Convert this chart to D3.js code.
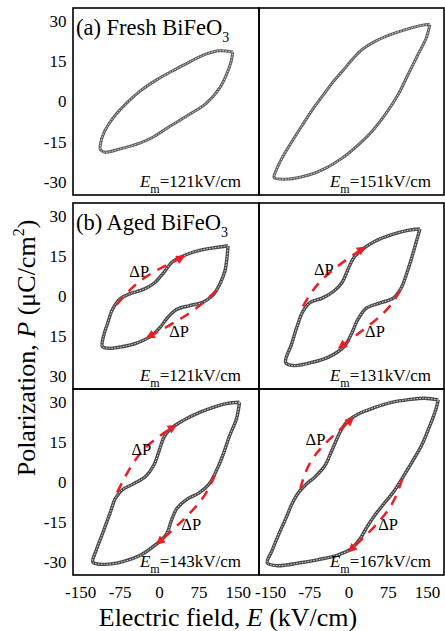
<!DOCTYPE html>
<html>
<head>
<meta charset="utf-8">
<script src="https://cdn.jsdelivr.net/npm/d3@7"></script>
<style>
  body { margin: 0; background: #fff; }
</style>
</head>
<body>
<div id="plot"></div>
<script>
// P-E loops: [E (kV/cm), P (uC/cm2)], upper branch then lower branch
const fresh121 = [[127,18.5],[102,19],[77,17.8],[32,13.5],[13,11.5],[-18,8.1],[-50,3.8],[-75,-0.6],
  [-101,-6.2],[-117,-11.2],[-125,-16.2],[-125,-18],[-117,-19],[-88,-17.8],[-50,-15.6],[-25,-13.4],
  [-6,-11],[13,-8.6],[45,-4.8],[77,-0.6],[102,5],[115,10],[124,15],[127,18.5]];
const fresh151 = [[150,28.8],[134,28.5],[108,27.2],[77,25.2],[45,22.5],[20,19.4],[1,15.6],[-18,11.2],
  [-37,6.9],[-56,1.9],[-75,-3.1],[-94,-8.8],[-114,-15],[-133,-21.2],[-145,-26.2],[-148,-28.5],
  [-120,-29],[-82,-27.5],[-50,-25],[-18,-21.2],[13,-16.2],[39,-11.2],[64,-5],[89,2.5],[108,10],
  [127,17.5],[143,23.8],[150,28.8]];
const aged121 = [[118,18.9],[90,18.1],[64,17.2],[39,15.6],[13,13],[-6,8.4],[-22,4.9],[-44,2.4],
  [-69,0.8],[-88,-1.1],[-102,-5.1],[-112,-10.8],[-119,-15.2],[-121,-19],[-107,-19.7],[-82,-19],
  [-56,-17.7],[-31,-15.4],[-12,-12],[4,-7.9],[20,-5.1],[45,-3.6],[70,-2.4],[90,0.5],[102,4.3],
  [112,9.3],[116,14.3],[118,18.9]];
const aged131 = [[131,25.2],[108,24.7],[77,23.1],[45,20.6],[20,17.4],[4,14.3],[-7,9.9],[-18,5.1],
  [-34,1.8],[-56,-0.8],[-79,-2.4],[-93,-5.8],[-104,-11.4],[-115,-18.3],[-126,-25],[-110,-26.2],
  [-76,-25],[-44,-23],[-15,-19.2],[-1,-14.6],[12,-8.9],[29,-4.5],[55,-2.6],[80,-0.8],[95,3],
  [107,9.3],[117,15.6],[126,21.8],[131,25.2]];
const aged143 = [[140,30],[115,29.5],[90,28.1],[64,26.2],[32,23.1],[10,20.2],[-4,16.8],[-13,11.8],
  [-23,6.4],[-39,2.1],[-63,-0.8],[-83,-2.9],[-96,-6.1],[-107,-12],[-120,-19],[-133,-25.8],
  [-139,-30.2],[-117,-31],[-82,-30],[-50,-27.7],[-18,-23.3],[1,-19.6],[10,-14.6],[21,-9.9],
  [39,-6.6],[63,-4.1],[82,-0.8],[96,4.3],[109,10.5],[121,17.4],[134,23.7],[140,30]];
const aged167 = [[166,30.9],[140,31.5],[109,31],[77,30],[45,28.1],[13,25.6],[-6,23.1],[-18,20.2],
  [-28,16.2],[-39,11.2],[-51,6.1],[-69,2.1],[-88,-1.1],[-101,-3.9],[-114,-8.3],[-126,-13.9],
  [-139,-19.6],[-152,-25.8],[-161,-30.5],[-142,-31.5],[-101,-30.5],[-63,-29.2],[-25,-27.4],
  [-1,-25.2],[17,-21.2],[29,-17.1],[45,-12.4],[64,-7.7],[82,-3.3],[97,1.4],[115,7.2],[134,13.7],
  [150,21.2],[162,27.7],[166,30.9]];

// dP arrows: [start, mid, end] in data units, and label positions
const arrows121 = [[[-94,-3.3],[-44,6.4],[32,14.6]], [[96,2.1],[45,-6.4],[-34,-15.4]]];
const arrows131 = [[[-93,-3.9],[-53,6.8],[23,18.1]], [[93,2.1],[58,-7],[-22,-19.2]]];
const arrows143 = [[[-93,-3.9],[-47,11.2],[16,21]], [[93,2.6],[61,-8.3],[-15,-23]]];
const arrows167 = [[[-98,-2.6],[-70,10],[1,23.7]], [[97,1.1],[67,-11.4],[-3,-25.8]]];
const dpLabels121 = [[-51,9.3],[25,-13.3]];
const dpLabels131 = [[-53,9.9],[45,-13.3]];
const dpLabels143 = [[-47,12.4],[48,-15.8]];
const dpLabels167 = [[-69,16.2],[70,-15.8]];

const emValues = ["121", "151", "121", "131", "143", "167"];
const rowTitles = [["(a) Fresh BiFeO", "3"], ["(b) Aged BiFeO", "3"], null];
const yTickValues = [30, 15, 0, -15, -30];
const yLabelsA = ["30", "15", "0", "-15", "-30"];
const yLabelsB1 = ["30", "15", "0", "15", "30"];
const yLabelsB2 = ["30", "15", "0", "-15", "-30"];
const xTickValues = [-150, -75, 0, 75, 150];
const xLabels = ["-150", "-75", "0", "75", "150"];

const w = 445, h = 631;
const red = "#ee1c24";
const serif = "Liberation Serif, DejaVu Serif, serif";
const cols = [{left: 73, right: 259}, {left: 259, right: 444}];
const rows = [{top: 8, bottom: 195}, {top: 203, bottom: 389}, {top: 389, bottom: 575}];
const rowLabels = [yLabelsA, yLabelsB1, yLabelsB2];

const panels = [
  {row: 0, col: 0, loop: fresh121, em: emValues[0]},
  {row: 0, col: 1, loop: fresh151, em: emValues[1]},
  {row: 1, col: 0, loop: aged121, em: emValues[2], arrows: arrows121, dp: dpLabels121},
  {row: 1, col: 1, loop: aged131, em: emValues[3], arrows: arrows131, dp: dpLabels131},
  {row: 2, col: 0, loop: aged143, em: emValues[4], arrows: arrows143, dp: dpLabels143},
  {row: 2, col: 1, loop: aged167, em: emValues[5], arrows: arrows167, dp: dpLabels167}
];

const svg = d3.select("div#plot")
  .append("svg")
    .attr("width", w)
    .attr("height", h)
    .attr("font-family", serif);

svg.append("rect")
    .attr("width", w)
    .attr("height", h)
    .attr("fill", "#fff");

svg.append("defs").append("marker")
    .attr("id", "ah")
    .attr("viewBox", "0 0 10 10")
    .attr("refX", 7)
    .attr("refY", 5)
    .attr("markerWidth", 5)
    .attr("markerHeight", 3.6)
    .attr("markerUnits", "strokeWidth")
    .attr("orient", "auto")
  .append("path")
    .attr("d", "M0,0L10,5L0,10z")
    .attr("fill", red);

const xScales = cols.map(c => d3.scaleLinear().domain([-177, 177]).range([c.left, c.right]));
const yScales = rows.map(r => d3.scaleLinear().domain([-35, 35]).range([r.bottom, r.top]));

// y axes, one per row
rows.forEach((r, i) => {
  const g = svg.append("g")
      .attr("transform", `translate(${cols[0].left - 0.5},0)`)
      .call(d3.axisLeft(yScales[i])
        .tickValues(yTickValues)
        .tickSize(0)
        .tickPadding(6)
        .tickFormat((d, k) => rowLabels[i][k]));
  g.attr("font-family", serif).attr("font-size", 17);
  g.select(".domain").remove();
  g.selectAll("text").attr("fill", "#000");
});

// x axes under the bottom row
const axisShift = [-7, -3];
cols.forEach((c, i) => {
  const g = svg.append("g")
      .attr("transform", `translate(${axisShift[i]},${rows[2].bottom})`)
      .call(d3.axisBottom(xScales[i])
        .tickValues(xTickValues)
        .tickSize(0)
        .tickPadding(11)
        .tickFormat((d, k) => xLabels[k]));
  g.attr("font-family", serif).attr("font-size", 17);
  g.select(".domain").remove();
  g.selectAll("text").attr("fill", "#000");
});

panels.forEach(p => {
  const x = xScales[p.col], y = yScales[p.row];
  const c = cols[p.col], r = rows[p.row];
  const g = svg.append("g");

  const loopLine = d3.line()
      .x(d => x(d[0]))
      .y(d => y(d[1]))
      .curve(d3.curveCatmullRom.alpha(0.5));

  const dark = p.row === 0 ? "#606060" : "#4a4a4a";
  g.append("path")
      .attr("d", loopLine(p.loop))
      .attr("fill", "none")
      .attr("stroke", dark)
      .attr("stroke-width", p.row === 0 ? 3 : 3.4)
      .attr("stroke-linejoin", "round");
  g.append("path")
      .attr("d", loopLine(p.loop))
      .attr("fill", "none")
      .attr("stroke", "#d4d4d4")
      .attr("stroke-width", 1)
      .attr("stroke-dasharray", "1.6 1.3");

  if (p.arrows) {
    const arrowLine = d3.line()
        .x(d => x(d[0]))
        .y(d => y(d[1]))
        .curve(d3.curveNatural);
    g.selectAll(".arrow")
      .data(p.arrows)
      .enter().append("path")
        .attr("class", "arrow")
        .attr("d", d => arrowLine(d))
        .attr("fill", "none")
        .attr("stroke", red)
        .attr("stroke-width", 2.5)
        .attr("stroke-dasharray", "10 8")
        .attr("marker-end", "url(#ah)");
    g.selectAll(".dp")
      .data(p.dp)
      .enter().append("text")
        .attr("class", "dp")
        .attr("x", d => x(d[0]))
        .attr("y", d => y(d[1]))
        .attr("dy", "0.35em")
        .attr("text-anchor", "middle")
        .attr("font-size", 16.5)
        .text("\u0394P");
  }

  // E_m label
  const em = g.append("text")
      .attr("x", c.right - (p.col === 0 ? 18 : 13))
      .attr("y", r.bottom - 8)
      .attr("text-anchor", "end")
      .attr("font-size", 17);
  em.append("tspan").attr("font-style", "italic").text("E");
  em.append("tspan").attr("font-size", 12).attr("dy", 6).text("m");
  em.append("tspan").attr("dy", -6).text(`=${p.em}kV/cm`);

  // frame
  svg.append("rect")
      .attr("x", c.left)
      .attr("y", r.top)
      .attr("width", c.right - c.left)
      .attr("height", r.bottom - r.top)
      .attr("fill", "none")
      .attr("stroke", "#000")
      .attr("stroke-width", 1.6);
});

// row titles
rowTitles.forEach((t, i) => {
  if (!t) return;
  const tt = svg.append("text")
      .attr("x", cols[0].left + 3)
      .attr("y", rows[i].top + 27)
      .attr("font-size", 22.5);
  tt.append("tspan").text(t[0]);
  tt.append("tspan").attr("font-size", 14).attr("dy", 7).text(t[1]);
});

// axis titles
const yt = svg.append("text")
    .attr("transform", "translate(35,348) rotate(-90)")
    .attr("text-anchor", "middle")
    .attr("font-size", 26);
yt.append("tspan").text("Polarization, ");
yt.append("tspan").attr("font-style", "italic").text("P");
yt.append("tspan").text(" (\u03bcC/cm");
yt.append("tspan").attr("font-size", 16).attr("dy", -11).text("2");
yt.append("tspan").attr("dy", 11).text(")");

const xt = svg.append("text")
    .attr("x", 228)
    .attr("y", 626)
    .attr("text-anchor", "middle")
    .attr("font-size", 26);
xt.append("tspan").text("Electric field, ");
xt.append("tspan").attr("font-style", "italic").text("E");
xt.append("tspan").text(" (kV/cm)");
</script>
</body>
</html>
